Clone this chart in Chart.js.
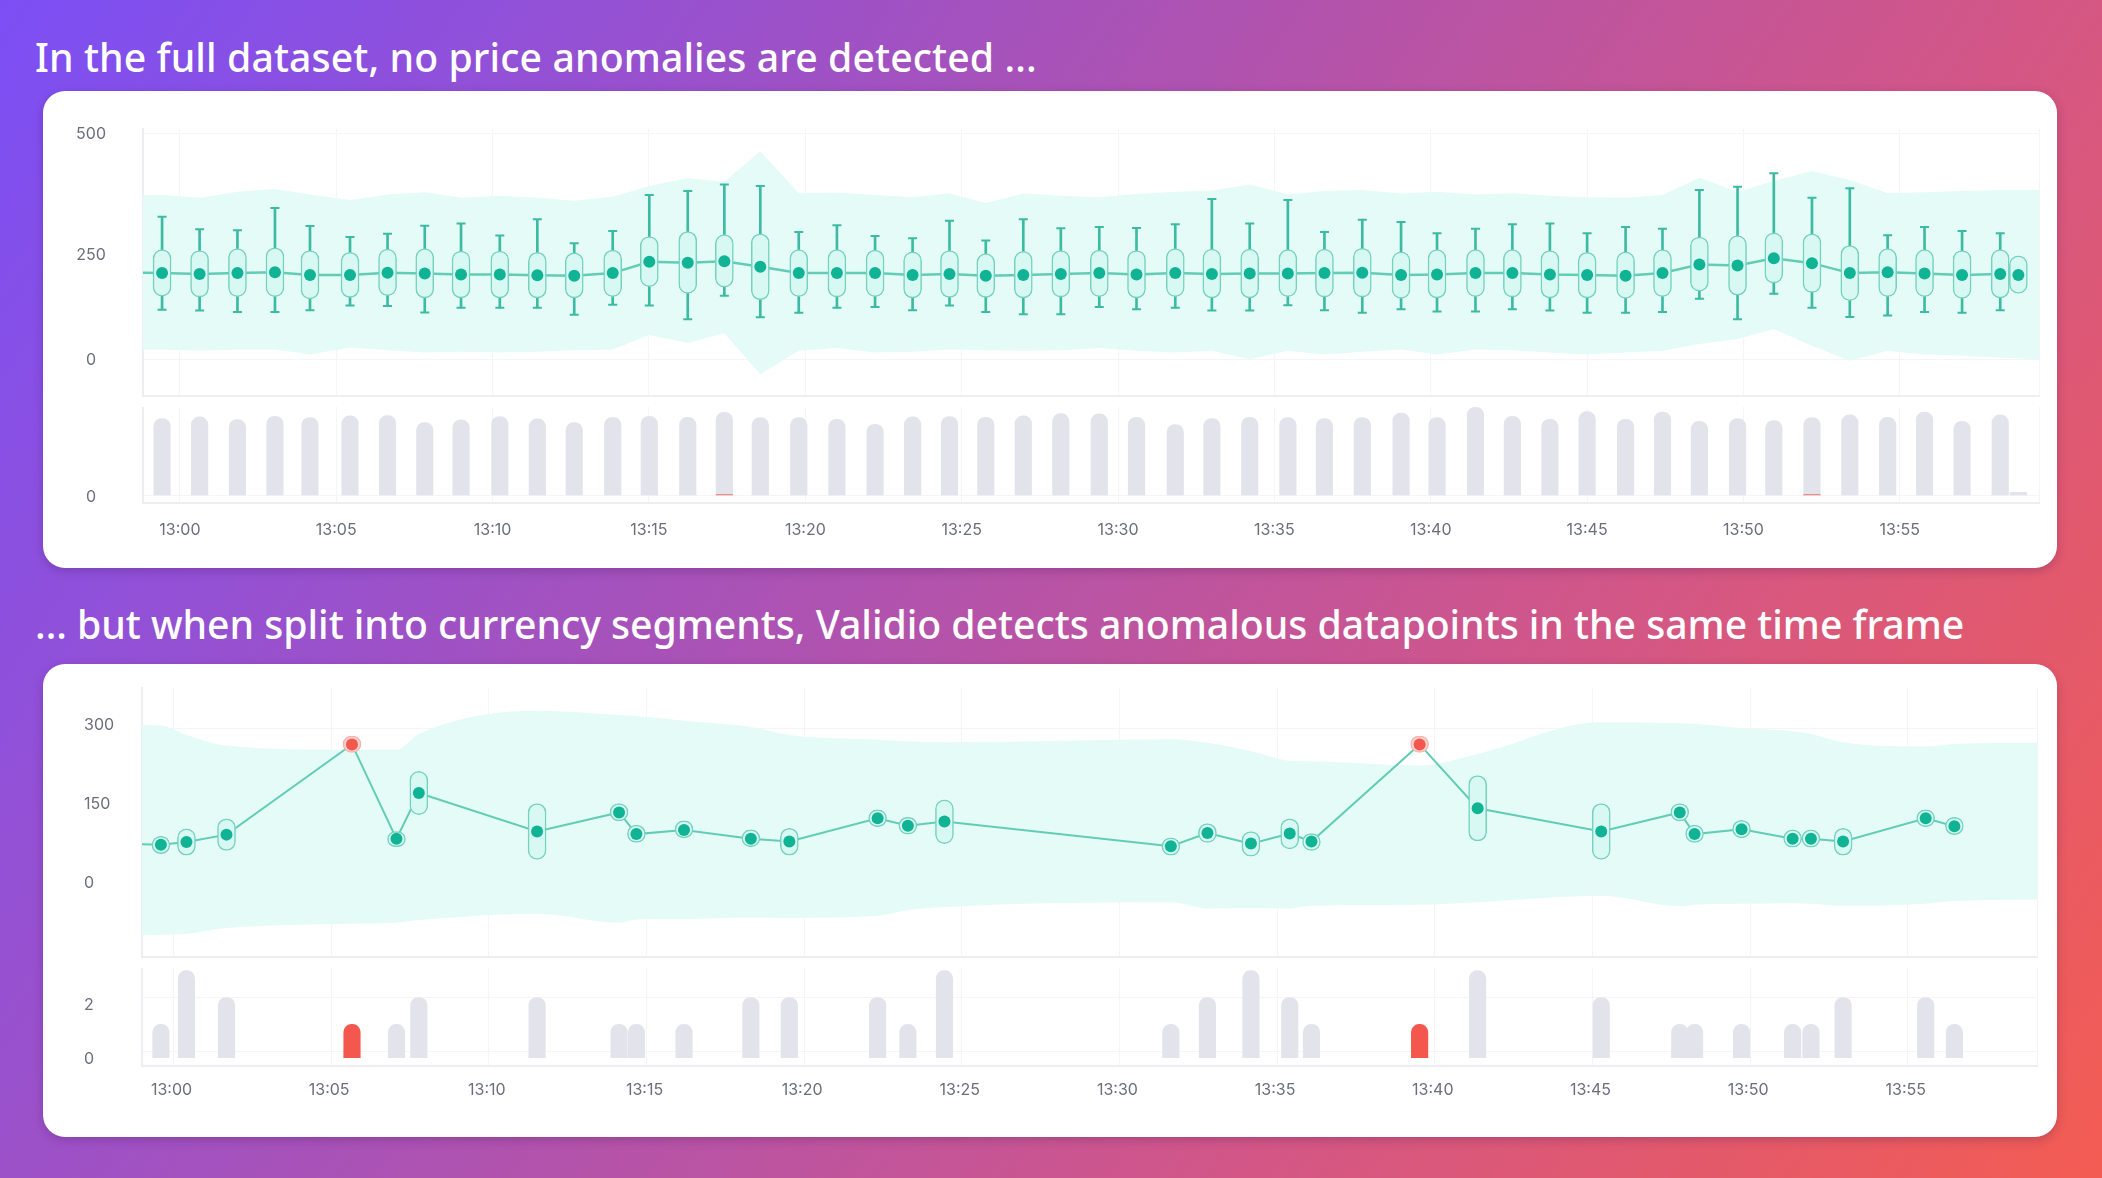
<!DOCTYPE html>
<html>
<head>
<meta charset="utf-8">
<title>Validio price anomalies</title>
<script src="https://cdn.jsdelivr.net/npm/chart.js@4"></script>
<style>
  html, body { margin: 0; padding: 0; }
  body {
    width: 2102px; height: 1178px; position: relative; overflow: hidden;
    background: linear-gradient(124deg, #7c4ff5 0%, #a852b8 38%, #d0568a 68%, #f35c52 100%);
    font-family: "Noto Sans", sans-serif;
  }
  h1 { position: absolute; margin: 0; left: 35px; color: #fff; font-size: 39.2px; font-weight: 500; line-height: 50px; white-space: nowrap; }
  .card { position: absolute; left: 43px; width: 2014px; background: #fff; border-radius: 22px; box-shadow: 0 3px 10px rgba(60, 20, 80, 0.25); }
  canvas { position: absolute; left: 43px; }
</style>
</head>
<body>
<h1 id="title1" style="top: 32px; letter-spacing: 0.1px">In the full dataset, no price anomalies are detected ...</h1>
<div class="card" style="top: 91px; height: 477px"></div>
<h1 id="title2" style="top: 599px; letter-spacing: -0.03px">... but when split into currency segments, Validio detects anomalous datapoints in the same time frame</h1>
<div class="card" style="top: 664px; height: 473px"></div>
<canvas id="fullPrice" width="2014" height="283" style="top: 119px"></canvas>
<canvas id="fullCount" width="2014" height="161" style="top: 407px"></canvas>
<canvas id="segmentPrice" width="2014" height="285" style="top: 678px"></canvas>
<canvas id="segmentCount" width="2014" height="169" style="top: 968px"></canvas>
<script>
// Time axis, minutes after 13:00
const tickMinutes = [0, 5, 10, 15, 20, 25, 30, 35, 40, 45, 50, 55];
const tickLabels = ['13:00', '13:05', '13:10', '13:15', '13:20', '13:25', '13:30', '13:35', '13:40', '13:45', '13:50', '13:55'];

// Full dataset: one box per window
const fullMinutes = [-0.57, 0.63, 1.84, 3.04, 4.16, 5.44, 6.64, 7.83, 8.99, 10.23, 11.43, 12.61, 13.84, 15.01, 16.24, 17.41,
  18.56, 19.79, 21.01, 22.23, 23.43, 24.61, 25.77, 26.97, 28.17, 29.4, 30.59, 31.83, 33.0, 34.21, 35.43, 36.6, 37.81, 39.05,
  40.2, 41.43, 42.61, 43.81, 45.0, 46.23, 47.41, 48.59, 49.81, 50.97, 52.19, 53.4, 54.61, 55.79, 56.99, 58.21, 58.79];
const fullMedian = [192, 190, 192, 194, 188, 188, 193, 191, 189, 189, 187, 186, 192, 217, 215, 218,
  206, 192, 192, 192, 188, 190, 186, 188, 190, 192, 189, 192, 190, 191, 191, 192, 193, 188,
  189, 192, 192, 189, 188, 186, 192, 211, 209, 225, 214, 192, 194, 191, 188, 190, 188];
const fullBoxHigh = [244, 242, 246, 248, 242, 238, 245, 246, 241, 241, 238, 237, 243, 273, 284, 277,
  279, 244, 244, 243, 239, 242, 235, 240, 242, 243, 242, 246, 245, 245, 244, 245, 247, 239,
  244, 244, 244, 242, 238, 239, 244, 272, 275, 281, 279, 253, 246, 244, 242, 244, 230];
const fullBoxLow = [141, 139, 140, 140, 135, 138, 142, 137, 137, 137, 137, 137, 140, 162, 147, 161,
  133, 140, 139, 140, 137, 138, 138, 137, 139, 140, 137, 140, 137, 137, 140, 139, 139, 136,
  137, 140, 139, 137, 137, 136, 140, 152, 143, 170, 149, 131, 140, 140, 136, 137, 147];
const fullWhiskerHigh = [317, 289, 287, 336, 296, 272, 279, 297, 302, 275, 311, 258, 285, 365, 374, 388,
  385, 283, 298, 274, 269, 308, 264, 311, 291, 294, 292, 300, 356, 302, 354, 283, 310, 305,
  280, 290, 300, 302, 280, 294, 290, 376, 383, 413, 359, 380, 276, 294, 285, 280, null];
const fullWhiskerLow = [111, 109, 106, 106, 110, 120, 119, 105, 115, 115, 115, 100, 122, 120, 90, 142,
  94, 104, 115, 117, 110, 120, 106, 101, 101, 117, 112, 115, 109, 109, 121, 110, 104, 112,
  107, 107, 112, 109, 104, 104, 106, 135, 90, 146, 115, 95, 98, 106, 104, 110, null];
const fullBandHigh = [365, 365, 359, 372, 378, 366, 354, 366, 371, 359, 363, 359, 352, 361, 385, 402, 394,
  462, 369, 370, 365, 360, 369, 347, 368, 363, 360, 367, 372, 375, 388, 366, 374, 376, 368,
  372, 366, 369, 363, 360, 359, 365, 403, 372, 396, 418, 398, 369, 371, 374, 376, 376, 376];
const fullBandLow = [23, 23, 20, 23, 23, 12, 27, 21, 16, 18, 16, 18, 21, 23, 55, 37, 59,
  -32, 20, 26, 16, 18, 23, 21, 20, 21, 26, 20, 16, 20, 1, 20, 12, 18, 23,
  12, 23, 21, 16, 12, 16, 20, 35, 46, 68, 31, -2, 20, 12, 9, 5, 3, 1];
const fullCounts = [232, 237, 229, 239, 235, 240, 241, 220, 228, 238, 231, 220, 236, 239, 236, 251,
  235, 235, 230, 215, 237, 238, 236, 240, 247, 246, 236, 214, 232, 236, 235, 232, 235, 249,
  235, 266, 239, 230, 253, 230, 252, 224, 232, 226, 235, 243, 236, 252, 224, 243, 9];
const fullAnomalyMinutes = [17.41, 52.19];
const fullAnomalyCounts = [2, 2];

// Currency segment: sparser windows
const segmentMinutes = [-0.4, 0.41, 1.68, 5.66, 7.07, 7.78, 11.53, 14.13, 14.68, 16.19, 18.31, 19.53, 22.33, 23.29, 24.45,
  31.63, 32.79, 34.17, 35.4, 36.09, 39.52, 41.36, 45.28, 47.77, 48.24, 49.73, 51.35, 51.93, 52.95, 55.57, 56.48];
const segmentMedian = [79, 84, 98, 269, 90, 177, 104, 140, 99, 107, 90, 85, 129, 115, 123,
  76, 101, 81, 100, 85, 269, 148, 104, 140, 99, 108, 90, 90, 85, 129, 114];
const segmentBoxHigh = [95, 109, 128, 285, 104, 218, 157, 157, 116, 124, 107, 110, 145, 131, 164,
  92, 119, 104, 128, 100, 285, 210, 157, 157, 116, 125, 107, 107, 110, 145, 131];
const segmentBoxLow = [62, 59, 68, 254, 75, 136, 51, 124, 83, 92, 75, 59, 113, 99, 81,
  59, 83, 57, 71, 68, 254, 86, 51, 124, 83, 92, 74, 74, 59, 113, 98];
const segmentBandHigh = [306, 305, 287, 267, 259, 259, 289, 333, 325, 323, 314, 302, 287, 278, 275, 273,
  279, 272, 256, 238, 237, 229, 251, 311, 309, 308, 300, 294, 289, 273, 265, 270, 272];
const segmentBandLow = [-93, -92, -90, -79, -71, -69, -64, -52, -69, -63, -62, -59, -60, -56, -45, -39,
  -30, -42, -41, -42, -37, -35, -30, -18, -38, -35, -33, -32, -33, -37, -33, -28, -25];
const segmentCounts = [1, 3, 2, 1, 1, 2, 2, 1, 1, 1, 2, 2, 2, 1, 3, 1, 2, 3, 2, 1, 1, 3, 2, 1, 1, 1, 1, 1, 2, 2, 1];
const segmentAnomalyMinutes = [5.66, 39.52];

const fullPriceTicks = [0, 250, 500];
const fullCountTicks = [0];
const segmentPriceTicks = [0, 150, 300];
const segmentCountTicks = [0, 2];

const GRID = '#f4f5f7';
const AXIS = '#eceef2';
const TICK_TEXT = '#6c6e7c';
const BAND = '#e5fbf7';
const LINE = '#62cdb5';
const WHISKER = '#3dbba2';
const BOX_FILL = '#d8f8f3';
const BOX_BORDER = '#74d2bd';
const DOT = '#10b494';
const COUNT_BAR = '#e3e3ec';
const RED = '#f4574e';
const RED_FILL = '#fbd3cf';
const RED_BORDER = '#f8b4ad';
const FONT = { family: 'Inter', size: 16 };

Chart.defaults.animation = false;
Chart.defaults.responsive = false;
Chart.defaults.plugins.legend.display = false;
Chart.defaults.plugins.tooltip.enabled = false;

const points = (xs, ys) => xs.map((x, i) => ({ x, y: ys[i] }));
const ranges = (xs, lows, highs) => xs.map((x, i) => ({ x, y: [lows[i], highs[i]] })).filter(d => d.y[0] !== null);
const isRed = (list, i, minutes) => list.includes(minutes[i]);

// tick padding also eats into the plot, so drop the margins the scale asks for
function noMargins(scale) {
    scale.paddingLeft = scale.paddingRight = scale.paddingTop = scale.paddingBottom = 0;
}

function timeAxis(min, max, showLabels) {
    return {
        type: 'linear', min, max, offset: false,
        grid: { color: GRID, offset: false, drawTicks: false },
        border: { color: AXIS, width: 2 },
        afterBuildTicks: scale => {
            // the extra tick at max only draws the right hand edge of the plot
            scale.ticks = tickMinutes.concat(max).map(value => ({ value }));
        },
        afterFit: scale => {
            scale.height = showLabels ? showLabels.height : 0;
            noMargins(scale);
        },
        ticks: {
            display: !!showLabels, autoSkip: false, maxRotation: 0,
            padding: showLabels ? showLabels.padding : 0,
            labelOffset: showLabels ? showLabels.labelOffset : 0,
            color: TICK_TEXT, font: FONT,
            callback: value => tickLabels[tickMinutes.indexOf(value)] || ''
        }
    };
}

function valueAxis(min, max, ticks, width, tickOptions, callback) {
    return {
        min, max,
        grid: { color: GRID, drawTicks: false },
        border: { color: AXIS, width: 2 },
        afterBuildTicks: scale => { scale.ticks = ticks.map(value => ({ value })); },
        afterFit: scale => {
            scale.width = width;
            noMargins(scale);
        },
        ticks: Object.assign({ color: TICK_TEXT, font: FONT, callback: callback || (v => String(v)) }, tickOptions)
    };
}

function bandAndLine(bandXs, high, low, lineXs, line, curved, lineWidth) {
    const interp = curved ? 'monotone' : 'default';
    return [
        { type: 'line', order: 8, data: points(bandXs, high), pointRadius: 0, borderWidth: 0, fill: '+1', backgroundColor: BAND, cubicInterpolationMode: interp },
        { type: 'line', order: 9, data: points(bandXs, low), pointRadius: 0, borderWidth: 0, fill: false, cubicInterpolationMode: interp },
        { type: 'line', order: 7, data: points(lineXs, line), pointRadius: 0, borderWidth: lineWidth, borderColor: LINE, fill: false }
    ];
}

// Top chart, full dataset
const fullX0 = -1.18, fullX1 = 59.45;
new Chart(document.getElementById('fullPrice'), {
    type: 'bar',
    data: {
        datasets: bandAndLine(
            [fullX0].concat(fullMinutes, fullX1), fullBandHigh, fullBandLow,
            [fullX0].concat(fullMinutes), [193].concat(fullMedian), false, 2.5
        ).concat([
            { order: 6, grouped: false, data: ranges(fullMinutes, fullWhiskerLow, fullWhiskerHigh), barThickness: 2, backgroundColor: WHISKER },
            { order: 5, grouped: false, data: ranges(fullMinutes, fullBoxLow, fullBoxHigh), barThickness: 18, backgroundColor: BOX_FILL, borderColor: BOX_BORDER, borderWidth: 1.5, borderSkipped: false, borderRadius: 9 },
            { type: 'line', order: 3, showLine: false, data: points(fullMinutes, fullWhiskerHigh).filter(d => d.y !== null), pointStyle: 'line', pointRadius: 4.5, pointBorderWidth: 2, pointBorderColor: WHISKER },
            { type: 'line', order: 3, showLine: false, data: points(fullMinutes, fullWhiskerLow).filter(d => d.y !== null), pointStyle: 'line', pointRadius: 4.5, pointBorderWidth: 2, pointBorderColor: WHISKER },
            { type: 'line', order: 1, showLine: false, data: points(fullMinutes, fullMedian), pointRadius: 6, pointBorderWidth: 0, pointBackgroundColor: DOT }
        ])
    },
    options: {
        layout: { padding: { top: 10, right: 18, bottom: 1 } },
        scales: {
            x: timeAxis(fullX0, fullX1, null),
            y: valueAxis(-79, 511, fullPriceTicks, 100, { crossAlign: 'center', padding: 37, font: { family: 'Inter', size: 16, lineHeight: 1 } },
                // 250 sits lower than its grid line in the original, an empty first line pushes it down
                v => (v === 250 ? ['', '250'] : String(v)))
        }
    }
});

new Chart(document.getElementById('fullCount'), {
    type: 'bar',
    data: {
        datasets: [
            { order: 2, grouped: false, data: points(fullMinutes, fullCounts), barThickness: 16.5, backgroundColor: COUNT_BAR, borderRadius: { topLeft: 8, topRight: 8, bottomLeft: 0, bottomRight: 0 } },
            { order: 1, grouped: false, data: points(fullAnomalyMinutes, fullAnomalyCounts), barThickness: 16.5, backgroundColor: RED }
        ]
    },
    options: {
        layout: { padding: { right: 18 } },
        scales: {
            x: timeAxis(fullX0, fullX1, { height: 65, padding: 17.5, labelOffset: 0 }),
            y: valueAxis(-23, 267, fullCountTicks, 100, { crossAlign: 'center', padding: 47, labelOffset: 2 })
        }
    }
});

// Bottom chart, one currency segment
const segX0 = -1.0, segX1 = 59.1;
const segBandXs = [segX0].concat(segmentMinutes, segX1);
new Chart(document.getElementById('segmentPrice'), {
    type: 'bar',
    data: {
        datasets: bandAndLine(
            segBandXs, segmentBandHigh, segmentBandLow,
            [segX0].concat(segmentMinutes), [80].concat(segmentMedian), true, 2
        ).concat([
            {
                order: 5, grouped: false, data: ranges(segmentMinutes, segmentBoxLow, segmentBoxHigh), barThickness: 18,
                backgroundColor: segmentMinutes.map((m, i) => (isRed(segmentAnomalyMinutes, i, segmentMinutes) ? RED_FILL : BOX_FILL)),
                borderColor: segmentMinutes.map((m, i) => (isRed(segmentAnomalyMinutes, i, segmentMinutes) ? RED_BORDER : BOX_BORDER)),
                borderWidth: 1.5, borderSkipped: false, borderRadius: 9
            },
            {
                type: 'line', order: 1, showLine: false, data: points(segmentMinutes, segmentMedian), pointRadius: 6, pointBorderWidth: 0,
                pointBackgroundColor: segmentMinutes.map((m, i) => (isRed(segmentAnomalyMinutes, i, segmentMinutes) ? RED : DOT))
            }
        ])
    },
    options: {
        layout: { padding: { top: 10, left: 41, right: 20, bottom: 1 } },
        scales: {
            x: timeAxis(segX0, segX1, null),
            y: valueAxis(-134, 376, segmentPriceTicks, 58, { crossAlign: 'far', labelOffset: -3 })
        }
    }
});

new Chart(document.getElementById('segmentCount'), {
    type: 'bar',
    data: {
        datasets: [{
            grouped: false, data: points(segmentMinutes, segmentCounts), base: -0.24, barThickness: 16.5,
            backgroundColor: segmentMinutes.map((m, i) => (isRed(segmentAnomalyMinutes, i, segmentMinutes) ? RED : COUNT_BAR)),
            borderRadius: { topLeft: 8, topRight: 8, bottomLeft: 0, bottomRight: 0 }
        }]
    },
    options: {
        layout: { padding: { left: 41, right: 20 } },
        scales: {
            x: timeAxis(segX0, segX1, { height: 71, padding: 15, labelOffset: -2 }),
            y: valueAxis(-0.55, 3.1, segmentCountTicks, 58, { crossAlign: 'far', labelOffset: 8 })
        }
    }
});
</script>
</body>
</html>
